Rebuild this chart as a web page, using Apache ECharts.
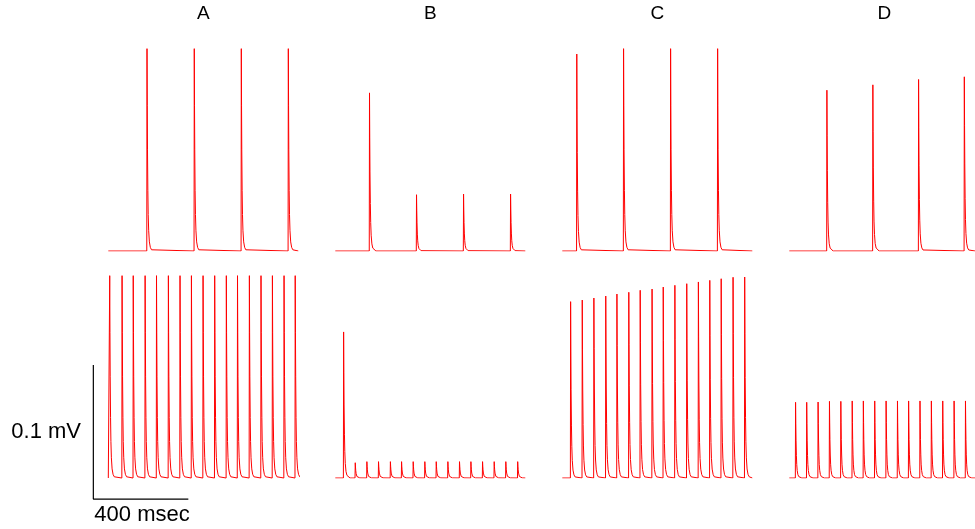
<!DOCTYPE html>
<html>
<head>
<meta charset="utf-8">
<script src="https://cdn.jsdelivr.net/npm/echarts@6/dist/echarts.min.js"></script>
<style>html,body{margin:0;padding:0;background:#fff;}#chart{width:975px;height:529px;}</style>
</head>
<body>
<div id="chart"></div>
<script>
// ---- data (times in msec, peak amplitudes in mV) ----
const panelTitles = ['A', 'B', 'C', 'D'];

const topTimesA = [163, 362, 560, 758];
const topAmpsA  = [0.151, 0.151, 0.151, 0.151];
const topTimesB = [144, 342, 540, 738];
const topAmpsB  = [0.118, 0.042, 0.0425, 0.0425];
const topTimesC = [61, 258, 456, 654];
const topAmpsC  = [0.147, 0.151, 0.151, 0.151];
const topTimesD = [162, 360, 557, 754];
const topAmpsD  = [0.120, 0.124, 0.128, 0.130];

const botTimesA = [6, 58, 105, 155, 203, 253, 302, 350, 399, 448, 497, 544, 594, 643, 691, 740, 787];
const botAmpsA  = [0.151, 0.151, 0.151, 0.151, 0.151, 0.151, 0.151, 0.151, 0.151, 0.151, 0.151, 0.151, 0.151, 0.151, 0.151, 0.151, 0.151];
const botTimesB = [35, 84, 133, 182, 232, 279, 328, 377, 425, 474, 523, 571, 620, 669, 718, 768];
const botAmpsB  = [0.109, 0.0114, 0.0122, 0.0122, 0.0122, 0.0122, 0.0122, 0.0122, 0.0122, 0.0122, 0.0122, 0.0122, 0.0122, 0.0122, 0.0122, 0.0122];
const botTimesC = [35, 84, 133, 183, 230, 280, 328, 378, 425, 474, 524, 573, 621, 669, 719, 768];
const botAmpsC  = [0.1316, 0.1328, 0.1343, 0.1358, 0.1373, 0.1386, 0.1401, 0.1410, 0.1425, 0.1438, 0.1450, 0.1463, 0.1475, 0.1487, 0.1498, 0.1500];
const botTimesD = [27, 75, 124, 173, 222, 271, 319, 368, 417, 466, 514, 563, 612, 661, 710, 759];
const botAmpsD  = [0.0565, 0.0565, 0.0567, 0.0572, 0.0572, 0.0575, 0.0575, 0.0575, 0.0575, 0.0575, 0.0575, 0.0575, 0.0575, 0.0575, 0.0575, 0.0575];

// single EPSP waveform template (msec offset from peak, fraction of peak)
const kernelT = [-1, 0, 1, 2, 3.5, 5, 7, 10, 14, 19, 27];
const kernelV = [0, 1, 0.72, 0.5, 0.3, 0.18, 0.1, 0.045, 0.018, 0.006, 0];

// scale bar: 0.1 mV / 400 msec
const scaleBarT = [-63, -63, 337];
const scaleBarV = [0.0843, -0.0157, -0.0157];
const scaleLabels = ['0.1 mV', '400 msec'];

const traceEnd = 800;

// ---- build ----
function buildTrace(times, amps) {
  const pts = [[0, 0]];
  for (let i = 0; i < times.length; i++) {
    for (let k = 0; k < kernelT.length; k++) {
      pts.push([times[i] + kernelT[k], amps[i] * kernelV[k]]);
    }
  }
  const last = pts[pts.length - 1][0];
  pts.push([Math.max(traceEnd, last), 0]);
  return pts;
}

const panels = [
  [topTimesA, topAmpsA], [topTimesB, topAmpsB], [topTimesC, topAmpsC], [topTimesD, topAmpsD],
  [botTimesA, botAmpsA], [botTimesB, botAmpsB], [botTimesC, botAmpsC], [botTimesD, botAmpsD]
];

const pxPerMs = 95 / 400;
const pxPerMv = 1340;
const yMax = 0.16;
const panelLeft0 = 108.3, panelStep = 227;
const baselines = [251, 478];

const grids = [], xAxes = [], yAxes = [], series = [];
panels.forEach((p, i) => {
  const row = Math.floor(i / 4), col = i % 4;
  const isScale = (i === 4);
  const xMin = isScale ? -70 : 0;
  const yMin = isScale ? -0.02 : 0;
  const left = panelLeft0 + col * panelStep + xMin * pxPerMs;
  const width = (traceEnd - xMin) * pxPerMs;
  const top = baselines[row] - yMax * pxPerMv;
  const height = (yMax - yMin) * pxPerMv;
  grids.push({ left: left, top: top, width: width, height: height, containLabel: false });
  xAxes.push({ type: 'value', gridIndex: i, min: xMin, max: traceEnd, show: false });
  yAxes.push({ type: 'value', gridIndex: i, min: yMin, max: yMax, show: false });
  series.push({
    type: 'line', xAxisIndex: i, yAxisIndex: i,
    data: buildTrace(p[0], p[1]),
    showSymbol: false, symbol: 'none', smooth: false, clip: true,
    lineStyle: { color: '#ff0000', width: 1 },
    silent: true, animation: false
  });
});

series.push({
  type: 'line', xAxisIndex: 4, yAxisIndex: 4,
  data: scaleBarT.map((t, k) => [t, scaleBarV[k]]),
  showSymbol: false, symbol: 'none', clip: false,
  lineStyle: { color: '#000', width: 1.2 },
  silent: true, animation: false
});

const fontFam = '"Liberation Sans", Arial, Helvetica, sans-serif';
const graphics = panelTitles.map((t, c) => ({
  type: 'text', x: panelLeft0 + c * panelStep + traceEnd * pxPerMs / 2, y: 14,
  style: { text: t, font: '19px ' + fontFam, fill: '#000', align: 'center', verticalAlign: 'middle' }
}));
graphics.push({
  type: 'text', x: 81, y: 432,
  style: { text: scaleLabels[0], font: '22px ' + fontFam, fill: '#000', align: 'right', verticalAlign: 'middle' }
});
graphics.push({
  type: 'text', x: 142, y: 515,
  style: { text: scaleLabels[1], font: '22px ' + fontFam, fill: '#000', align: 'center', verticalAlign: 'middle' }
});

const chart = echarts.init(document.getElementById('chart'), null, { renderer: 'canvas' });
chart.setOption({
  animation: false,
  backgroundColor: '#fff',
  grid: grids,
  xAxis: xAxes,
  yAxis: yAxes,
  series: series,
  graphic: graphics
});
</script>
</body>
</html>
